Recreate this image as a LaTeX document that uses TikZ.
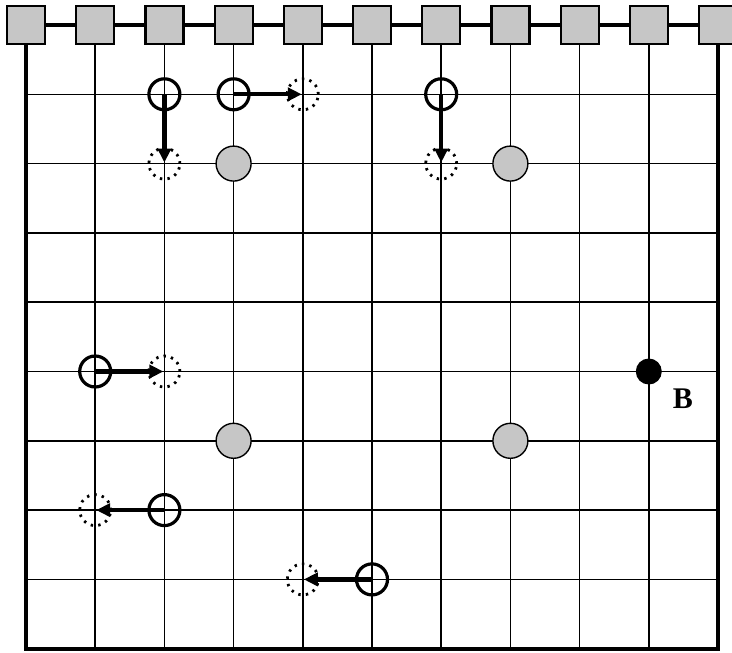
\documentclass[tikz,border=0pt]{standalone}
\usepackage{fontspec}
\setmainfont{Liberation Serif}
\usetikzlibrary{arrows.meta}
\definecolor{sitegray}{RGB}{198,198,198}
\newcommand\gridpt[2]{({26+69.2*#1},{25+69.3*#2})}
\begin{document}
\begin{tikzpicture}[x=1pt,y=-1pt,
  gridline/.style={line width=1.6pt},
  frame/.style={line width=3.8pt},
  chain/.style={line width=3.6pt},
  site/.style={draw, line width=2.2pt, fill=sitegray, minimum size=38pt, inner sep=0pt},
  walker/.style={circle, draw, line width=3.2pt, minimum size=31pt, inner sep=0pt},
  target/.style={circle, draw, line width=2.8pt, dash pattern=on 2.4pt off 5.2pt, minimum size=31pt, inner sep=0pt},
  fixed/.style={circle, draw, line width=1.4pt, fill=sitegray, minimum size=35pt, inner sep=0pt},
  blackdot/.style={circle, fill=black, minimum size=26pt, inner sep=0pt},
  move/.style={line width=4.2pt, -{Triangle[length=14pt,width=13pt]}, shorten >=1pt}]
\clip (0,0) rectangle (732,653);
\useasboundingbox (0,0) rectangle (732,653);
\fill[white] (0,0) rectangle (732,653);

% site squares along the top edge
\foreach \i in {0,...,10} \node[site] (s\i) at \gridpt{\i}{0} {};

% horizontal grid lines
\foreach \j in {1,...,8} \draw[gridline] \gridpt{0}{\j} -- \gridpt{10}{\j};
% vertical grid lines hanging from the squares
\foreach \i in {1,...,9} \draw[gridline] (s\i.south) -- \gridpt{\i}{9};
% outer frame
\draw[frame] (s0.south) -- \gridpt{0}{9} -- \gridpt{10}{9} -- (s10.south);
% chain joining the squares
\foreach \i [evaluate=\i as \k using int(\i+1)] in {0,...,9}
  \draw[chain] (s\i.east) -- (s\k.west);

% fixed grey obstacles
\node[fixed] (g1) at \gridpt{3}{2} {};
\node[fixed] (g2) at \gridpt{7}{2} {};
\node[fixed] (g3) at \gridpt{3}{6} {};
\node[fixed] (g4) at \gridpt{7}{6} {};

% point B
\node[blackdot] (b) at \gridpt{9}{5} {};
\node[font=\fontsize{30}{32}\selectfont\bfseries] (blabel) at (683,399) {B};

% walkers and the sites they move to
\node[walker] (w1) at \gridpt{2}{1} {};
\node[target] (t1) at \gridpt{2}{2} {};
\node[walker] (w2) at \gridpt{3}{1} {};
\node[target] (t2) at \gridpt{4}{1} {};
\node[walker] (w3) at \gridpt{6}{1} {};
\node[target] (t3) at \gridpt{6}{2} {};
\node[walker] (w4) at \gridpt{1}{5} {};
\node[target] (t4) at \gridpt{2}{5} {};
\node[walker] (w5) at \gridpt{2}{7} {};
\node[target] (t5) at \gridpt{1}{7} {};
\node[walker] (w6) at \gridpt{5}{8} {};
\node[target] (t6) at \gridpt{4}{8} {};

\foreach \n in {1,...,6} \draw[move] (w\n.center) -- (t\n.center);
\end{tikzpicture}
\end{document}
